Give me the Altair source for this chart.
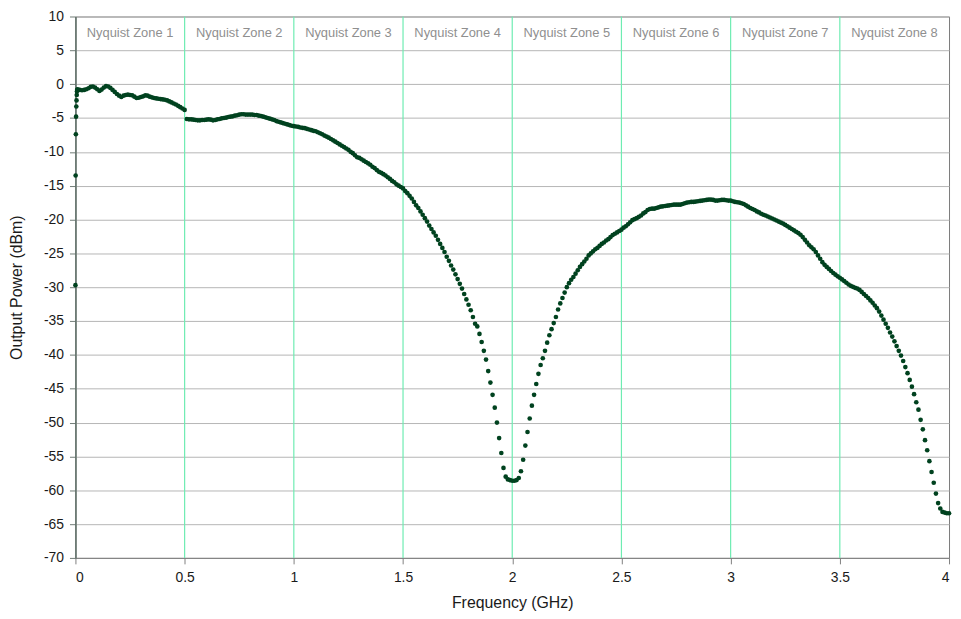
import altair as alt
import pandas as pd

# first sweep points (very low frequency, rising edge)
start_freq = [0.0, 0.001, 0.002, 0.003, 0.004, 0.005, 0.006, 0.007, 0.008]
start_power = [-29.7, -13.5, -7.4, -4.8, -3.3, -2.4, -1.6, -1.1, -0.85]

# output power (dBm) every 0.01 GHz, one list per Nyquist zone
zone1 = [-0.75, -0.85, -0.9, -0.85, -0.75, -0.6, -0.4, -0.35, -0.5, -0.75,
         -1.0, -0.8, -0.5, -0.3, -0.35, -0.55, -0.85, -1.15, -1.45, -1.7,
         -1.9, -1.7, -1.6, -1.55, -1.6, -1.65, -1.85, -2.05, -2.0, -1.9,
         -1.8, -1.65, -1.7, -1.85, -1.95, -2.05, -2.1, -2.15, -2.2, -2.25,
         -2.3, -2.4, -2.55, -2.7, -2.85, -3.0, -3.2, -3.4, -3.6, -3.8]
zone2 = [-5.15, -5.2, -5.2, -5.25, -5.3, -5.35, -5.35, -5.3, -5.3, -5.25,
         -5.2, -5.25, -5.35, -5.3, -5.2, -5.15, -5.05, -5.0, -4.95, -4.85,
         -4.8, -4.75, -4.65, -4.6, -4.5, -4.45, -4.45, -4.5, -4.5, -4.5,
         -4.5, -4.55, -4.55, -4.65, -4.7, -4.8, -4.9, -5.0, -5.1, -5.2,
         -5.3, -5.45, -5.55, -5.65, -5.75, -5.85, -5.95, -6.05, -6.15, -6.2]
zone3 = [-6.25, -6.3, -6.4, -6.45, -6.5, -6.6, -6.7, -6.8, -6.9, -6.95,
         -7.1, -7.25, -7.4, -7.6, -7.75, -7.9, -8.1, -8.3, -8.5, -8.7,
         -8.9, -9.1, -9.3, -9.5, -9.7, -10.0, -10.2, -10.5, -10.8, -10.9,
         -11.1, -11.3, -11.5, -11.7, -11.9, -12.2, -12.4, -12.7, -12.95, -13.1,
         -13.3, -13.5, -13.75, -14.0, -14.3, -14.5, -14.8, -15.0, -15.2, -15.4]
zone4 = [-15.8, -16.1, -16.5, -16.9, -17.4, -17.9, -18.3, -18.8, -19.3, -19.8,
         -20.3, -20.9, -21.4, -21.9, -22.4, -23.0, -23.6, -24.2, -24.8, -25.5,
         -26.1, -26.8, -27.4, -28.1, -28.8, -29.5, -30.2, -31.0, -31.8, -32.6,
         -33.4, -34.4, -35.4, -35.8, -36.9, -38.1, -39.4, -40.7, -42.4, -44.1,
         -45.9, -47.8, -50.0, -52.3, -54.5, -56.7, -58.0, -58.4, -58.5, -58.6]
zone5 = [-58.6, -58.5, -58.2, -57.2, -55.5, -53.4, -51.4, -49.4, -47.5, -45.9,
         -44.3, -42.8, -41.5, -40.5, -39.4, -38.2, -37.1, -36.2, -35.3, -34.4,
         -33.3, -32.4, -31.6, -30.8, -30.0, -29.4, -28.9, -28.5, -28.0, -27.5,
         -27.0, -26.6, -26.2, -25.8, -25.3, -25.0, -24.7, -24.4, -24.2, -23.9,
         -23.6, -23.4, -23.1, -22.9, -22.6, -22.3, -22.1, -21.9, -21.7, -21.5]
zone6 = [-21.2, -21.0, -20.7, -20.4, -20.1, -19.95, -19.8, -19.6, -19.4, -19.1,
         -18.9, -18.6, -18.45, -18.4, -18.4, -18.3, -18.2, -18.1, -18.05, -18.0,
         -17.95, -17.9, -17.85, -17.8, -17.8, -17.8, -17.8, -17.7, -17.6, -17.5,
         -17.45, -17.4, -17.4, -17.35, -17.3, -17.25, -17.2, -17.15, -17.1, -17.05,
         -17.05, -17.1, -17.2, -17.2, -17.15, -17.1, -17.1, -17.15, -17.2, -17.2]
zone7 = [-17.3, -17.4, -17.45, -17.5, -17.6, -17.7, -17.9, -18.1, -18.3, -18.45,
         -18.6, -18.8, -18.95, -19.15, -19.3, -19.4, -19.55, -19.7, -19.85, -20.0,
         -20.15, -20.3, -20.45, -20.6, -20.8, -21.0, -21.2, -21.4, -21.6, -21.8,
         -22.0, -22.25, -22.6, -23.0, -23.4, -23.8, -24.1, -24.4, -24.8, -25.3,
         -25.8, -26.3, -26.7, -27.0, -27.3, -27.6, -27.9, -28.15, -28.4, -28.6]
zone8 = [-28.85, -29.1, -29.35, -29.6, -29.8, -29.95, -30.1, -30.2, -30.4, -30.7,
         -31.0, -31.3, -31.6, -31.95, -32.3, -32.7, -33.1, -33.6, -34.2, -34.8,
         -35.4, -36.0, -36.7, -37.3, -38.0, -38.7, -39.4, -40.1, -40.9, -41.8,
         -42.7, -43.7, -44.7, -45.8, -47.0, -48.1, -49.6, -51.0, -52.6, -54.1,
         -55.7, -57.3, -58.9, -60.5, -61.9, -62.7, -63.2, -63.3, -63.4, -63.4]

zone_edges = [0.5, 1.0, 1.5, 2.0, 2.5, 3.0, 3.5]
zone_centers = [0.25, 0.75, 1.25, 1.75, 2.25, 2.75, 3.25, 3.75]
zone_names = ["Nyquist Zone 1", "Nyquist Zone 2", "Nyquist Zone 3", "Nyquist Zone 4",
              "Nyquist Zone 5", "Nyquist Zone 6", "Nyquist Zone 7", "Nyquist Zone 8"]
label_level = 7.5
x_ticks = [0, 0.5, 1, 1.5, 2, 2.5, 3, 3.5, 4]
y_ticks = list(range(-70, 11, 5))

# assemble sweep table
freq = list(start_freq)
power = list(start_power)
for z, vals in enumerate([zone1, zone2, zone3, zone4, zone5, zone6, zone7, zone8]):
    for i, v in enumerate(vals):
        freq.append(round(0.5 * z + 0.01 * (i + 1), 3))
        power.append(v)
df = pd.DataFrame({"freq": freq, "power": power})
df_edges = pd.DataFrame({"freq": zone_edges})
df_labels = pd.DataFrame({"freq": zone_centers, "power": [label_level] * 8, "name": zone_names})

FONT = "Liberation Sans"

x_enc = alt.X("freq:Q",
              scale=alt.Scale(domain=[0, 4], nice=False, zero=False),
              axis=alt.Axis(values=x_ticks, title="Frequency (GHz)", grid=False,
                            labelExpr="datum.value + ''", labelPadding=7,
                            domainColor="#7f7f7f", tickColor="#7f7f7f",
                            titlePadding=10))
y_enc = alt.Y("power:Q",
              scale=alt.Scale(domain=[-70, 10], nice=False, zero=False),
              axis=alt.Axis(values=y_ticks, title="Output Power (dBm)", grid=True,
                            gridColor="#b5b5b5", gridWidth=1,
                            labelExpr="datum.value + ''", labelPadding=6,
                            domainColor="#5f6f68", domainWidth=1.5, tickColor="#6f7a75",
                            titlePadding=19))

rules = alt.Chart(df_edges).mark_rule(color="#6eecb2", strokeWidth=1.2).encode(x=x_enc)
labels = alt.Chart(df_labels).mark_text(font=FONT, fontSize=13, color="#8f8f8f",
                                        align="center", baseline="middle").encode(
    x=x_enc, y=y_enc, text="name:N")
points = alt.Chart(df).mark_circle(size=22, color="#00421f", opacity=1).encode(x=x_enc, y=y_enc)

chart = alt.layer(rules, labels, points).properties(
    width=881, height=546,
    autosize=alt.AutoSizeParams(type="none"),
    padding={"left": 68, "top": 6, "right": 4, "bottom": 53},
).configure_view(stroke="#7a7a7a", strokeWidth=1).configure_axis(
    labelFont=FONT, labelFontSize=14, labelColor="#1a1a1a",
    titleFont=FONT, titleFontSize=16, titleFontWeight="normal", titleColor="#1a1a1a",
    tickSize=6,
)

chart.save("out.html", embed_options={"renderer": "svg", "actions": False})
